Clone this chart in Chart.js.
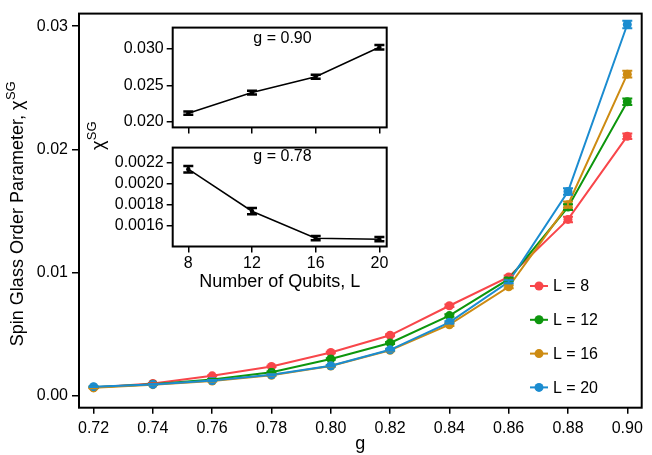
<!DOCTYPE html>
<html>
<head>
<meta charset="utf-8">
<script src="https://cdn.jsdelivr.net/npm/chart.js@4.4.1/dist/chart.umd.min.js"></script>
<style>
  body { margin: 0; background: #fff; }
  #wrap { position: relative; width: 652px; height: 455px; }
  canvas { position: absolute; }
</style>
</head>
<body>
<div id="wrap">
  <canvas id="mainChart" width="652" height="455" style="left:0;top:0"></canvas>
  <canvas id="insetTop" width="300" height="125" style="left:100px;top:15px"></canvas>
  <canvas id="insetBot" width="300" height="160" style="left:100px;top:135px"></canvas>
</div>
<script>
// Données du graphique principal
const gValues = [0.72, 0.74, 0.76, 0.78, 0.80, 0.82, 0.84, 0.86, 0.88, 0.90];
const chiL8  = [0.00065, 0.00098, 0.0016, 0.00236, 0.0035, 0.00489, 0.00729, 0.00963, 0.0143, 0.02106];
const chiL12 = [0.00068, 0.00092, 0.0013, 0.00189, 0.00297, 0.00427, 0.00649, 0.00945, 0.0153, 0.02386];
const chiL16 = [0.00062, 0.00088, 0.00118, 0.00165, 0.0024, 0.00367, 0.00575, 0.00883, 0.0155, 0.0261];
const chiL20 = [0.00072, 0.0009, 0.00122, 0.00168, 0.00242, 0.00371, 0.00594, 0.00924, 0.01657, 0.03013];
const errL8  = [0.00003, 0.00003, 0.00004, 0.00005, 0.00006, 0.00008, 0.0001, 0.00012, 0.00022, 0.00022];
const errL12 = [0.00003, 0.00003, 0.00004, 0.00005, 0.00006, 0.00008, 0.0001, 0.00012, 0.00024, 0.00026];
const errL16 = [0.00003, 0.00003, 0.00004, 0.00005, 0.00006, 0.00008, 0.0001, 0.00012, 0.00026, 0.00028];
const errL20 = [0.00003, 0.00003, 0.00004, 0.00005, 0.00006, 0.00008, 0.0001, 0.00012, 0.00027, 0.0003];
const seriesLabels = ['L = 8', 'L = 12', 'L = 16', 'L = 20'];
const mainYTicks = [0, 0.01, 0.02, 0.03];

// Données des encarts
const qubits = [8, 12, 16, 20];
const chiG090 = [0.02117, 0.0240, 0.02618, 0.03022];
const errG090 = [0.00022, 0.00025, 0.00028, 0.0003];
const chiG078 = [0.00214, 0.00174, 0.001483, 0.001474];
const errG078 = [0.00003, 0.00003, 0.00002, 0.00002];
const topYTicks = [0.020, 0.025, 0.030];
const botYTicks = [0.0016, 0.0018, 0.0020, 0.0022];

const FONT = "'Liberation Sans', Arial, Helvetica, sans-serif";
Chart.defaults.font.family = FONT;
Chart.defaults.color = '#000';

const colors = ['#F8464A', '#0D960D', '#CD8B12', '#1B8CD0'];

// Barres d'erreur
const errorBars = {
  id: 'errorBars',
  afterDatasetsDraw(chart) {
    const ctx = chart.ctx;
    const yScale = chart.scales.y;
    chart.data.datasets.forEach((ds, i) => {
      const meta = chart.getDatasetMeta(i);
      ctx.save();
      ctx.strokeStyle = ds.borderColor;
      meta.data.forEach((pt, j) => {
        const v = ds.data[j].y, e = ds.errs[j];
        const y1 = yScale.getPixelForValue(v + e);
        const y2 = yScale.getPixelForValue(v - e);
        const w = ds.capHalf || 5;
        ctx.lineWidth = ds.errWidth || 2;
        ctx.beginPath();
        ctx.moveTo(pt.x, y1); ctx.lineTo(pt.x, y2);
        ctx.moveTo(pt.x - w, y1); ctx.lineTo(pt.x + w, y1);
        ctx.moveTo(pt.x - w, y2); ctx.lineTo(pt.x + w, y2);
        ctx.stroke();
      });
      ctx.restore();
    });
  }
};

// Cadre autour de la zone de tracé
const boxFrame = {
  id: 'boxFrame',
  afterDraw(chart) {
    const a = chart.chartArea, ctx = chart.ctx;
    ctx.save();
    ctx.strokeStyle = '#000';
    ctx.lineWidth = 2;
    ctx.strokeRect(a.left, a.top, a.right - a.left, a.bottom - a.top);
    ctx.restore();
  }
};

// Texte tourné avec exposant (chi^SG)
function drawRotatedSup(ctx, x, yCenter, base, sup, size) {
  ctx.save();
  ctx.translate(x, yCenter);
  ctx.rotate(-Math.PI / 2);
  ctx.fillStyle = '#000';
  ctx.textBaseline = 'middle';
  ctx.font = size + 'px ' + FONT;
  const wb = ctx.measureText(base).width;
  ctx.font = Math.round(size * 0.72) + 'px ' + FONT;
  const ws = ctx.measureText(sup).width;
  const start = -(wb + ws) / 2;
  ctx.font = size + 'px ' + FONT;
  ctx.textAlign = 'left';
  ctx.fillText(base, start, 0);
  ctx.font = Math.round(size * 0.72) + 'px ' + FONT;
  ctx.fillText(sup, start + wb + 0.5, -size * 0.38);
  ctx.restore();
}

// Légende et titres du graphique principal
const mainDecor = {
  id: 'mainDecor',
  afterDraw(chart) {
    const ctx = chart.ctx;
    drawRotatedSup(ctx, 18, 214, 'Spin Glass Order Parameter, \u03C7', 'SG', 18);
    drawRotatedSup(ctx, 99, 136, '\u03C7', 'SG', 18);
    // légende
    ctx.save();
    ctx.font = '16px ' + FONT;
    ctx.textBaseline = 'middle';
    ctx.textAlign = 'left';
    seriesLabels.forEach((lab, i) => {
      const y = 286 + i * 33.8;
      ctx.strokeStyle = colors[i];
      ctx.fillStyle = colors[i];
      ctx.lineWidth = 2;
      ctx.beginPath(); ctx.moveTo(530, y); ctx.lineTo(548, y); ctx.stroke();
      ctx.beginPath(); ctx.arc(539, y, 4.5, 0, Math.PI * 2); ctx.fill();
      ctx.fillStyle = '#000';
      ctx.fillText(lab, 553, y + 1);
    });
    ctx.restore();
  }
};

function insetLabel(text, x, y) {
  return {
    id: 'insetLabel',
    afterDraw(chart) {
      const ctx = chart.ctx;
      ctx.save();
      ctx.font = '16px ' + FONT;
      ctx.fillStyle = '#000';
      ctx.textAlign = 'center';
      ctx.textBaseline = 'middle';
      ctx.fillText(text, x, y);
      ctx.restore();
    }
  };
}

const mainDatasets = [chiL8, chiL12, chiL16, chiL20].map((arr, i) => ({
  label: seriesLabels[i],
  data: gValues.map((g, j) => ({ x: g, y: arr[j] })),
  errs: [errL8, errL12, errL16, errL20][i],
  borderColor: colors[i],
  backgroundColor: colors[i],
  borderWidth: 2,
  pointRadius: 4.5,
  pointBorderWidth: 0,
  order: 3 - i,
  tension: 0
}));

new Chart(document.getElementById('mainChart'), {
  type: 'line',
  data: { datasets: mainDatasets },
  options: {
    responsive: false,
    animation: false,
    devicePixelRatio: 1,
    layout: { padding: { left: 0, top: 8, right: 10.3, bottom: 0 } },
    plugins: { legend: { display: false }, tooltip: { enabled: false } },
    scales: {
      x: {
        type: 'linear',
        min: 0.71508, max: 0.90486,
        afterBuildTicks: s => { s.ticks = gValues.map(v => ({ value: v })); },
        afterFit: s => { s.height = 47.3; },
        border: { display: false },
        grid: { drawOnChartArea: false, tickLength: 6, color: '#000', lineWidth: 1.5 },
        ticks: { font: { size: 16 }, color: '#000', padding: 5.5, maxRotation: 0, autoSkip: false,
                 callback: v => v.toFixed(2) },
        title: { display: true, text: 'g', font: { size: 18 }, color: '#000', padding: { top: 0, bottom: 0 } }
      },
      y: {
        type: 'linear',
        min: -0.00099, max: 0.031017,
        afterBuildTicks: s => { s.ticks = mainYTicks.map(v => ({ value: v })); },
        afterFit: s => { s.width = 79; },
        border: { display: false },
        grid: { drawOnChartArea: false, tickLength: 7, color: '#000', lineWidth: 1.5 },
        ticks: { font: { size: 16 }, color: '#000', padding: 4, callback: v => v.toFixed(2) }
      }
    }
  },
  plugins: [errorBars, boxFrame, mainDecor]
});

function insetConfig(yVals, errs, yTicks, yMin, yMax, digits, opts) {
  return {
    type: 'line',
    data: {
      datasets: [{
        data: qubits.map((q, j) => ({ x: q, y: yVals[j] })),
        errs: errs,
        borderColor: '#000',
        backgroundColor: '#000',
        borderWidth: 1.5,
        pointRadius: 1.5,
        errWidth: 2.5,
        capHalf: 5,
        tension: 0
      }]
    },
    options: {
      responsive: false,
      animation: false,
      devicePixelRatio: 1,
      layout: { padding: opts.padding },
      plugins: { legend: { display: false }, tooltip: { enabled: false } },
      scales: {
        x: {
          type: 'linear',
          min: 7.02, max: 20.46,
          afterBuildTicks: s => { s.ticks = qubits.map(v => ({ value: v })); },
          afterFit: s => { s.height = opts.xHeight; },
          border: { display: false },
          grid: { drawOnChartArea: false, tickLength: 6, color: '#000', lineWidth: 1.5 },
          ticks: { display: opts.showX, font: { size: 16 }, color: '#000', padding: 1, maxRotation: 0, autoSkip: false },
          title: { display: opts.showX, text: 'Number of Qubits, L', font: { size: 18 }, color: '#000',
                   padding: { top: 0, bottom: 2.5 } }
        },
        y: {
          type: 'linear',
          min: yMin, max: yMax,
          afterBuildTicks: s => { s.ticks = yTicks.map(v => ({ value: v })); },
          afterFit: s => { s.width = 72.7; },
          border: { display: false },
          grid: { drawOnChartArea: false, tickLength: 6, color: '#000', lineWidth: 1.5 },
          ticks: { font: { size: 16 }, color: '#000', padding: 3, callback: v => v.toFixed(digits) }
        }
      }
    },
    plugins: [errorBars, boxFrame, insetLabel(opts.label, 182.5, opts.labelY)]
  };
}

new Chart(document.getElementById('insetTop'),
  insetConfig(chiG090, errG090, topYTicks, 0.01922, 0.03292, 3,
    { padding: { left: 0, top: 8.3, right: 13.3, bottom: 0 }, xHeight: 11.7, showX: false,
      label: 'g = 0.90', labelY: 23.5 }));

new Chart(document.getElementById('insetBot'),
  insetConfig(chiG078, errG078, botYTicks, 0.001404, 0.002346, 4,
    { padding: { left: 0, top: 5, right: 13.3, bottom: 0 }, xHeight: 48.5, showX: true,
      label: 'g = 0.78', labelY: 21.7 }));
</script>
</body>
</html>
